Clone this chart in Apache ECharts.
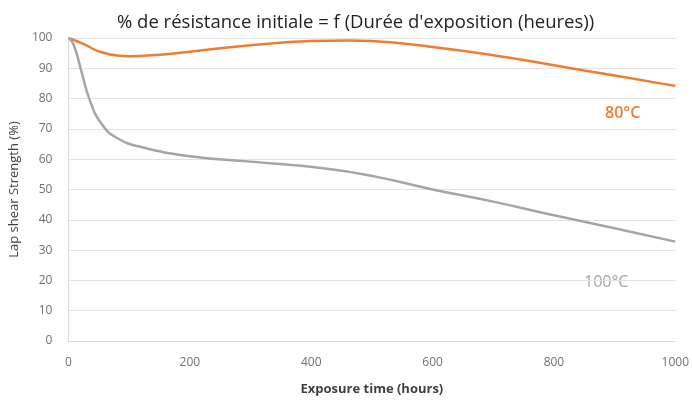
<!DOCTYPE html>
<html>
<head>
<meta charset="utf-8">
<script src="https://cdn.jsdelivr.net/npm/echarts@6/dist/echarts.min.js"></script>
<style>html,body{margin:0;padding:0;background:#fff;}#c{width:692px;height:401px;}</style>
</head>
<body>
<div id="c"></div>
<script>
const hours80 = [0, 25, 50, 80, 100, 150, 200, 300, 400, 460, 500, 600, 700, 800, 900, 1000];
const values80 = [100, 98, 95.6, 94.2, 94, 94.5, 95.5, 97.6, 99, 99.2, 99, 97, 94.3, 91, 87.6, 84.2];
const hours100 = [0, 8, 20, 35, 55, 80, 120, 200, 300, 420, 500, 600, 700, 800, 900, 1000];
const values100 = [100, 98, 90, 79.5, 71.5, 67, 64, 61, 59.2, 57, 54.5, 50, 46, 41.5, 37.2, 32.8];
const xTicks = [0, 200, 400, 600, 800, 1000];
const yTicks = [0, 10, 20, 30, 40, 50, 60, 70, 80, 90, 100];

const chart = echarts.init(document.getElementById('c'));
chart.setOption({
  animation: false,
  title: {
    text: "% de résistance initiale = f (Durée d'exposition (heures))",
    left: 112, top: 8,
    textStyle: {fontFamily: 'Open Sans', fontSize: 18.5, fontWeight: 'normal', color: '#222'}
  },
  grid: {left: 66, right: 16, top: 38, bottom: 57},
  xAxis: {
    type: 'value', min: 0, max: 1000, interval: 200,
    name: 'Exposure time (hours)', nameLocation: 'middle', nameGap: 42,
    nameTextStyle: {fontFamily: 'Open Sans', fontSize: 13, fontWeight: 'bold', color: '#404040'},
    axisLine: {lineStyle: {color: '#d9d9d9'}},
    axisTick: {show: false},
    splitLine: {show: false},
    axisLabel: {color: '#707070', fontFamily: 'Open Sans', fontSize: 12, margin: 16,
      formatter: v => xTicks.includes(v) ? String(v) : ''}
  },
  yAxis: {
    type: 'value', min: 0, max: 100, interval: 10,
    name: 'Lap shear Strength (%)', nameLocation: 'middle', nameGap: 42,
    nameTextStyle: {fontFamily: 'Open Sans', fontSize: 13, color: '#404040'},
    axisLine: {show: true, lineStyle: {color: '#d9d9d9'}},
    axisTick: {show: false},
    splitLine: {lineStyle: {color: '#e3e3e3'}},
    axisLabel: {color: '#707070', fontFamily: 'Open Sans', fontSize: 12, margin: 16,
      formatter: v => yTicks.includes(v) ? String(v) : ''}
  },
  series: [
    {
      name: '80°C', type: 'line', smooth: 0.5, symbol: 'none',
      lineStyle: {color: '#ED7D31', width: 2.5},
      data: hours80.map((h, i) => [h, values80[i]])
    },
    {
      name: '100°C', type: 'line', smooth: 0.5, symbol: 'none',
      lineStyle: {color: '#A5A5A5', width: 2.5},
      data: hours100.map((h, i) => [h, values100[i]])
    }
  ],
  graphic: [
    {type: 'text', left: 605, top: 105, style: {text: '80°C', fill: '#ED7D31', font: '600 16px "Open Sans"'}},
    {type: 'text', left: 584, top: 274, style: {text: '100°C', fill: '#A5A5A5', font: '16px "Open Sans"', backgroundColor: '#fff'}}
  ]
});
</script>
</body>
</html>
